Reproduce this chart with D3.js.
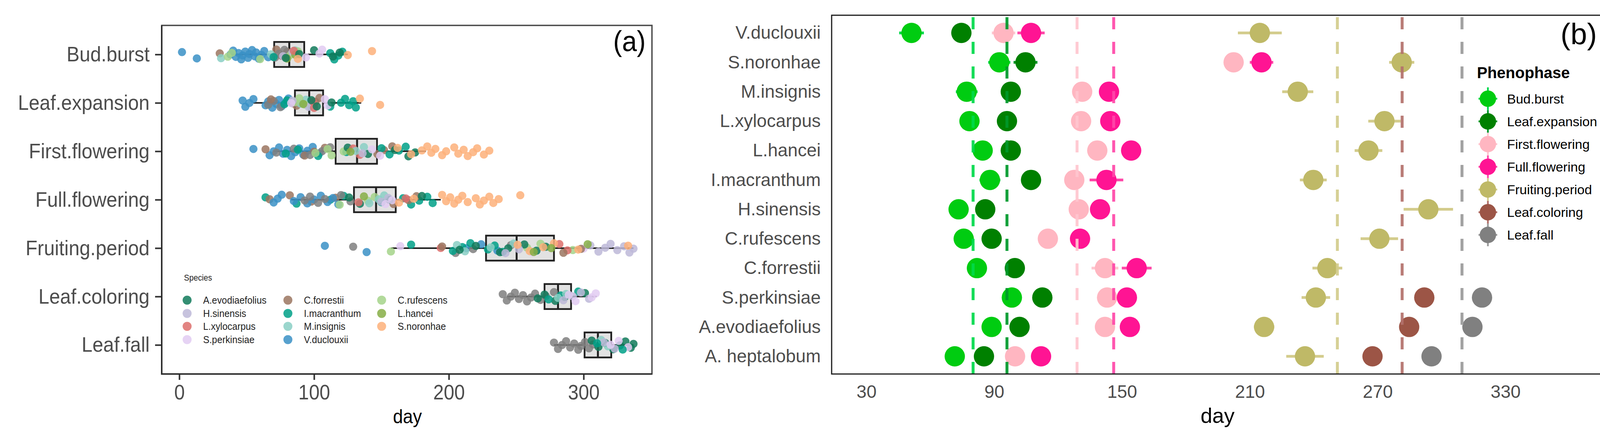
<!DOCTYPE html>
<html><head><meta charset="utf-8">
<script src="https://cdn.jsdelivr.net/npm/d3@7"></script>
<style>body{margin:0;background:#fff} svg{display:block}</style>
</head><body>
<svg id="c" width="4142" height="1131"></svg>
<script>
// ---------------- Panel (a) data ----------------
const phases = ["Bud.burst","Leaf.expansion","First.flowering","Full.flowering","Fruiting.period","Leaf.coloring","Leaf.fall"];
const legendSpecies = ["A.evodiaefolius","C.forrestii","C.rufescens","H.sinensis","I.macranthum","L.hancei","L.xylocarpus","M.insignis","S.noronhae","S.perkinsiae","V.duclouxii"];
const speciesColors = ["#117A5A","#9B7560","#A5D38A","#BDB9D8","#00A087","#86AE45","#DD6F6C","#8ACFC4","#FDB07A","#E2CBF2","#3990C5"];
const naColor = "#7F7F7F";

const budBurst = [
  ["V.duclouxii",[2,13,38,40,42,44,46,47,49,51,52,54,56,57,59,61,63,66]],
  ["C.forrestii",[30,72,76,80]],
  ["M.insignis",[31,68,86]],
  ["C.rufescens",[36,39,60,82,88]],
  ["NA",[71,74,78]],
  ["H.sinensis",[77,84]],
  ["L.hancei",[80,86]],
  ["L.xylocarpus",[85]],
  ["I.macranthum",[70,112,115,118,121]],
  ["A.evodiaefolius",[79,89,100,114,119]],
  ["S.noronhae",[88,125,143]],
  ["S.perkinsiae",[94,104,106]]
];
const leafExpansion = [
  ["V.duclouxii",[47,49,52,55,64,66,69,72,74,76,79,81]],
  ["NA",[66,70,75,84]],
  ["C.forrestii",[68,87,101,104]],
  ["I.macranthum",[78,80,112,120,123,126,129,131]],
  ["M.insignis",[90,94,97]],
  ["C.rufescens",[86,89,93]],
  ["H.sinensis",[84,96]],
  ["S.perkinsiae",[83,108,110]],
  ["L.xylocarpus",[99,100]],
  ["L.hancei",[92]],
  ["A.evodiaefolius",[98,102,113]],
  ["S.noronhae",[134,149]]
];
const firstFlowering = [
  ["V.duclouxii",[55,67,70,74,77,80,83,86,89,92,95,99,104]],
  ["C.forrestii",[64,93,100,108,147,152,158]],
  ["NA",[72,85,97,106,112]],
  ["I.macranthum",[79,88,103,124,150,156,163,168]],
  ["C.rufescens",[101,110,113,122]],
  ["A.evodiaefolius",[125,140,160,170,175]],
  ["L.xylocarpus",[129,134]],
  ["M.insignis",[131,137]],
  ["H.sinensis",[136]],
  ["S.perkinsiae",[143,149]],
  ["L.hancei",[127]],
  ["S.noronhae",[162,172,180,184,187,190,195,198,204,207,211,214,218,221,226,230]]
];
const fullFlowering = [
  ["I.macranthum",[64,87,112,122,150,166,172,178,184,188]],
  ["C.forrestii",[67,82,98,116,159,170,176]],
  ["V.duclouxii",[70,73,76,85,90,95,100,105,110,114,118]],
  ["NA",[93,97,103,108,120,127]],
  ["A.evodiaefolius",[126,134,156,180]],
  ["L.xylocarpus",[133,168]],
  ["C.rufescens",[119,140,145]],
  ["M.insignis",[141,148,152]],
  ["H.sinensis",[150,155]],
  ["S.perkinsiae",[153,158]],
  ["L.hancei",[137]],
  ["S.noronhae",[163,174,195,198,201,204,207,210,214,220,223,226,230,233,237,253]]
];
const fruitingPeriod = [
  ["V.duclouxii",[108,139,213,224,236]],
  ["NA",[129,205,218,246]],
  ["C.rufescens",[157,258,268,292]],
  ["S.perkinsiae",[164,262,300]],
  ["I.macranthum",[172,203,210,216,229,234,240]],
  ["L.xylocarpus",[194,282,288]],
  ["C.forrestii",[195,285,298]],
  ["M.insignis",[206,212,231,248]],
  ["A.evodiaefolius",[208,220,238,244,256,265,272]],
  ["H.sinensis",[242,252,305,311,316,320,325,330,334,337]],
  ["S.noronhae",[251,260,270,278,296,333]],
  ["L.hancei",[263,276,303]]
];
const leafColoring = [
  ["NA",[240,243,246,249,252,255,258,261,264,268,272,278]],
  ["A.evodiaefolius",[266,271,279,286,301]],
  ["I.macranthum",[274,283,296]],
  ["M.insignis",[281,287]],
  ["H.sinensis",[285,292,298,304]],
  ["S.perkinsiae",[289,294,306,309]]
];
const leafFall = [
  ["NA",[278,281,284,287,290,293,296,298,301,304,307]],
  ["A.evodiaefolius",[306,311,316,322,327,331,335,337]],
  ["M.insignis",[313,318]],
  ["H.sinensis",[315,323]],
  ["S.perkinsiae",[320,326,333]],
  ["I.macranthum",[310,329]]
];
const phaseData = [budBurst,leafExpansion,firstFlowering,fullFlowering,fruitingPeriod,leafColoring,leafFall];

// box statistics
const boxLo  = [37.5, 55, 70, 83, 157, 243, 278];
const boxQ1  = [70.4, 85.8, 116, 129.6, 227.6, 271, 300.7];
const boxMed = [81.6, 96.4, 131.9, 146, 250.3, 281, 310.6];
const boxQ3  = [92.7, 106.7, 146.7, 160.6, 278, 290.7, 320.5];
const boxHi  = [125, 135, 183, 194, 337, 309.6, 337];
const ticksA = [0,100,200,300];

// ---------------- Panel (b) data ----------------
const speciesB = ["V.duclouxii","S.noronhae","M.insignis","L.xylocarpus","L.hancei","I.macranthum","H.sinensis","C.rufescens","C.forrestii","S.perkinsiae","A.evodiaefolius","A. heptalobum"];
const meanBud   = [51.2, 92.4, 77.1, 78.4, 84.6, 88.0, 73.3, 75.7, 81.9, 98.3, 88.8, 71.5];
const errBud    = [5.8, 5.2, 5.1, 0, 0, 4.9, 0, 0, 0, 0, 0, 0];
const meanLeafE = [74.6, 104.7, 97.8, 96.0, 97.8, 107.3, 85.8, 88.8, 99.7, 112.6, 101.9, 85.2];
const errLeafE  = [0, 5.6, 0, 0, 0, 0, 0, 0, 0, 0, 0, 0];
const meanFirst = [94.4, 202.4, 131.3, 130.8, 138.4, 127.6, 129.7, 115.2, 142.0, 143.0, 142.0, 99.8];
const errFirst  = [5.5, 0, 0, 0, 0, 0, 0, 0, 6.3, 0, 0, 0];
const meanFull  = [107.3, 215.5, 143.9, 144.5, 154.3, 142.7, 139.7, 130.3, 156.9, 152.3, 153.7, 112.0];
const errFull   = [6.4, 5.5, 0, 0, 0, 7.9, 0, 0, 7.0, 0, 0, 0];
const meanFruit = [214.7, 281.3, 232.5, 273.2, 265.7, 239.8, 293.8, 270.8, 246.4, 241.0, 216.7, 235.9];
const errFruit  = [10.3, 5.9, 7.3, 7.6, 6.5, 6.3, 11.6, 8.8, 7.0, 6.7, 4.8, 8.8];
const meanColor = [null,null,null,null,null,null,null,null,null, 291.9, 284.8, 267.6];
const errColor  = [0,0,0,0,0,0,0,0,0,0,0,0];
const meanFall  = [null,null,null,null,null,null,null,null,null, 319.0, 314.5, 295.3];
const errFall   = [0,0,0,0,0,0,0,0,0,0,0,0];
const phaseMeans = [80.1, 96.0, 128.9, 146.1, 251.1, 281.5, 309.6];
const phaseColors = ["#00CC11","#008000","#FFB6C1","#FF1493","#BFB967","#9C5546","#808080"];
const phaseLineColors = ["#00D94A","#00992A","#FFC6CF","#FF48A8","#D3CC8C","#B3716B","#9A9A9A"];
const ticksB = [30,90,150,210,270,330];
const meansB = [meanBud,meanLeafE,meanFirst,meanFull,meanFruit,meanColor,meanFall];
const errsB  = [errBud,errLeafE,errFirst,errFull,errFruit,errColor,errFall];

// ---------------- drawing ----------------
const svg = d3.select("#c");
svg.append("rect").attr("width",4142).attr("height",1131).attr("fill","#fff");
const FONT = "'Liberation Sans', Arial, sans-serif";
const SX = 0.92;
const colorOf = s => { const i = legendSpecies.indexOf(s); return i < 0 ? naColor : speciesColors[i]; };

// Panel (a)
const A = {l:414, r:1669, t:65, b:957};
const xA = d3.scaleLinear().domain([-13.04, 350.7]).range([A.l, A.r]);
const yA = d3.scalePoint().domain(phases).range([A.t, A.b]).padding(0.6);
const gA = svg.append("g");
gA.append("rect").attr("x",A.l).attr("y",A.t).attr("width",A.r-A.l).attr("height",A.b-A.t)
  .attr("fill","none").attr("stroke","#4a4a4a").attr("stroke-width",3.5);

const BH = 32;
phases.forEach((p,i) => {
  const y = yA(p);
  const g = gA.append("g");
  g.append("line").attr("x1",xA(boxLo[i])).attr("x2",xA(boxQ1[i])).attr("y1",y).attr("y2",y).attr("stroke","#222").attr("stroke-width",4);
  g.append("line").attr("x1",xA(boxQ3[i])).attr("x2",xA(boxHi[i])).attr("y1",y).attr("y2",y).attr("stroke","#222").attr("stroke-width",4);
  g.append("rect").attr("x",xA(boxQ1[i])).attr("y",y-BH).attr("width",xA(boxQ3[i])-xA(boxQ1[i])).attr("height",2*BH)
    .attr("fill","#E2E2E2").attr("stroke","#222").attr("stroke-width",4.5);
  g.append("line").attr("x1",xA(boxMed[i])).attr("x2",xA(boxMed[i])).attr("y1",y-BH).attr("y2",y+BH).attr("stroke","#222").attr("stroke-width",5);
});

function jit(k){ const f = (k*0.6180339887 + 0.27) % 1; return (f*2-1)*13; }
phases.forEach((p,i) => {
  const pts = [];
  phaseData[i].forEach(([s,vals]) => vals.forEach(v => pts.push({s,v})));
  gA.append("g").selectAll("circle").data(pts).join("circle")
    .attr("cx",d=>xA(d.v)).attr("cy",(d,k)=>yA(p)+jit(k)).attr("r",10.5)
    .attr("fill",d=>colorOf(d.s)).attr("fill-opacity",0.85);
});

// axes (a)
const axL = gA.append("g").attr("transform",`translate(${A.l},0)`).call(d3.axisLeft(yA).tickSize(17).tickPadding(14));
axL.select(".domain").remove();
axL.selectAll("line").attr("stroke","#333").attr("stroke-width",4);
axL.selectAll("text").attr("font-size",54).attr("font-family",FONT).attr("fill","#4D4D4D")
  .attr("transform",`scale(${SX},1)`).attr("x",-31/SX);
const axB = gA.append("g").attr("transform",`translate(0,${A.b})`).call(d3.axisBottom(xA).tickValues(ticksA).tickSize(15).tickPadding(12));
axB.select(".domain").remove();
axB.selectAll("line").attr("stroke","#333").attr("stroke-width",4);
axB.selectAll("text").attr("font-size",53).attr("font-family",FONT).attr("fill","#4D4D4D").attr("transform",`scale(${SX},1)`);
gA.append("line").attr("x1",A.l).attr("x2",A.l).attr("y1",A.t).attr("y2",A.b+1.5).attr("stroke","#2a2a2a").attr("stroke-width",3.5);
gA.append("line").attr("x1",A.l-1.5).attr("x2",A.r).attr("y1",A.b).attr("y2",A.b).attr("stroke","#2a2a2a").attr("stroke-width",3.5);

gA.append("text").attr("transform",`translate(1043,1083) scale(${SX},1)`).attr("text-anchor","middle")
  .attr("font-size",50).attr("font-family",FONT).attr("fill","#000").text("day");
gA.append("text").attr("transform",`translate(1653,131) scale(${SX},1)`).attr("text-anchor","end")
  .attr("font-size",74).attr("font-family",FONT).attr("fill","#000").text("(a)");

// legend (a)
const legA = gA.append("g");
legA.append("text").attr("transform",`translate(471,718) scale(${SX},1)`).attr("font-size",22).attr("font-family",FONT).attr("fill","#222").text("Species");
const colX = [479, 737, 977], rowY = [768, 802, 835, 869];
legendSpecies.forEach((s,i) => {
  const r = Math.floor(i/3), c = i%3;
  legA.append("circle").attr("cx",colX[c]).attr("cy",rowY[r]).attr("r",11.5).attr("fill",speciesColors[i]).attr("fill-opacity",0.85);
  legA.append("text").attr("transform",`translate(${colX[c]+41},${rowY[r]+9}) scale(${SX},1)`)
    .attr("font-size",26).attr("font-family",FONT).attr("fill","#222").text(s);
});

// Panel (b)
const B = {l:2129, r:4107, t:39, b:957};
const xB = d3.scaleLinear().domain([13.7, 376.4]).range([B.l, B.r]);
const yB = d3.scalePoint().domain(speciesB).range([B.t, B.b]).padding(0.6);
const gB = svg.append("g");

const axYB = gB.append("g").attr("transform",`translate(${B.l},0)`).call(d3.axisLeft(yB).tickSize(0).tickPadding(28));
axYB.select(".domain").remove();
axYB.selectAll("text").attr("font-size",46).attr("font-family",FONT).attr("fill","#4D4D4D");
const axXB = gB.append("g").attr("transform",`translate(0,${B.b})`).call(d3.axisBottom(xB).tickValues(ticksB).tickSize(0).tickPadding(28));
axXB.select(".domain").remove();
axXB.selectAll("text").attr("font-size",46).attr("font-family",FONT).attr("fill","#4D4D4D");

phases.forEach((p,pi) => {
  const rows = speciesB.map((s,i)=>({s, m:meansB[pi][i], e:errsB[pi][i]})).filter(d=>d.m!==null);
  gB.append("g").selectAll("line").data(rows.filter(d=>d.e>0)).join("line")
    .attr("x1",d=>xB(d.m-d.e)).attr("x2",d=>xB(d.m+d.e)).attr("y1",d=>yB(d.s)).attr("y2",d=>yB(d.s))
    .attr("stroke",phaseLineColors[pi]).attr("stroke-width",7);
});
phases.forEach((p,pi) => {
  const rows = speciesB.map((s,i)=>({s, m:meansB[pi][i]})).filter(d=>d.m!==null);
  gB.append("g").selectAll("circle").data(rows).join("circle")
    .attr("cx",d=>xB(d.m)).attr("cy",d=>yB(d.s)).attr("r",26).attr("fill",phaseColors[pi]);
});
gB.append("g").selectAll("line").data(phaseMeans).join("line")
  .attr("x1",d=>xB(d)).attr("x2",d=>xB(d)).attr("y1",B.b).attr("y2",B.t)
  .attr("stroke",(d,i)=>phaseLineColors[i]).attr("stroke-width",7.5).attr("stroke-dasharray","31 32").attr("stroke-opacity",0.92);

gB.append("rect").attr("x",B.l).attr("y",B.t).attr("width",B.r-B.l).attr("height",B.b-B.t)
  .attr("fill","none").attr("stroke","#1a1a1a").attr("stroke-width",3);

gB.append("text").attr("x",3117).attr("y",1082).attr("text-anchor","middle")
  .attr("font-size",54).attr("font-family",FONT).attr("fill","#000").text("day");
gB.append("text").attr("x",4088).attr("y",113).attr("text-anchor","end")
  .attr("font-size",76).attr("font-family",FONT).attr("fill","#000").text("(b)");

// legend (b)
const legB = gB.append("g");
legB.append("text").attr("x",3781).attr("y",200).attr("font-size",40).attr("font-weight","bold")
  .attr("font-family",FONT).attr("fill","#000").text("Phenophase");
phases.forEach((p,i) => {
  const y = 252.5 + 58.1*i, x = 3809;
  legB.append("line").attr("x1",x).attr("x2",x).attr("y1",y-29).attr("y2",y+29).attr("stroke",phaseLineColors[i]).attr("stroke-width",4.5);
  legB.append("line").attr("x1",x-24).attr("x2",x+24).attr("y1",y).attr("y2",y).attr("stroke",phaseLineColors[i]).attr("stroke-width",4.5);
  legB.append("circle").attr("cx",x).attr("cy",y).attr("r",21).attr("fill",phaseColors[i]);
  legB.append("text").attr("x",3858).attr("y",y+12).attr("font-size",34).attr("font-family",FONT).attr("fill","#000").text(p);
});
</script>
</body></html>
